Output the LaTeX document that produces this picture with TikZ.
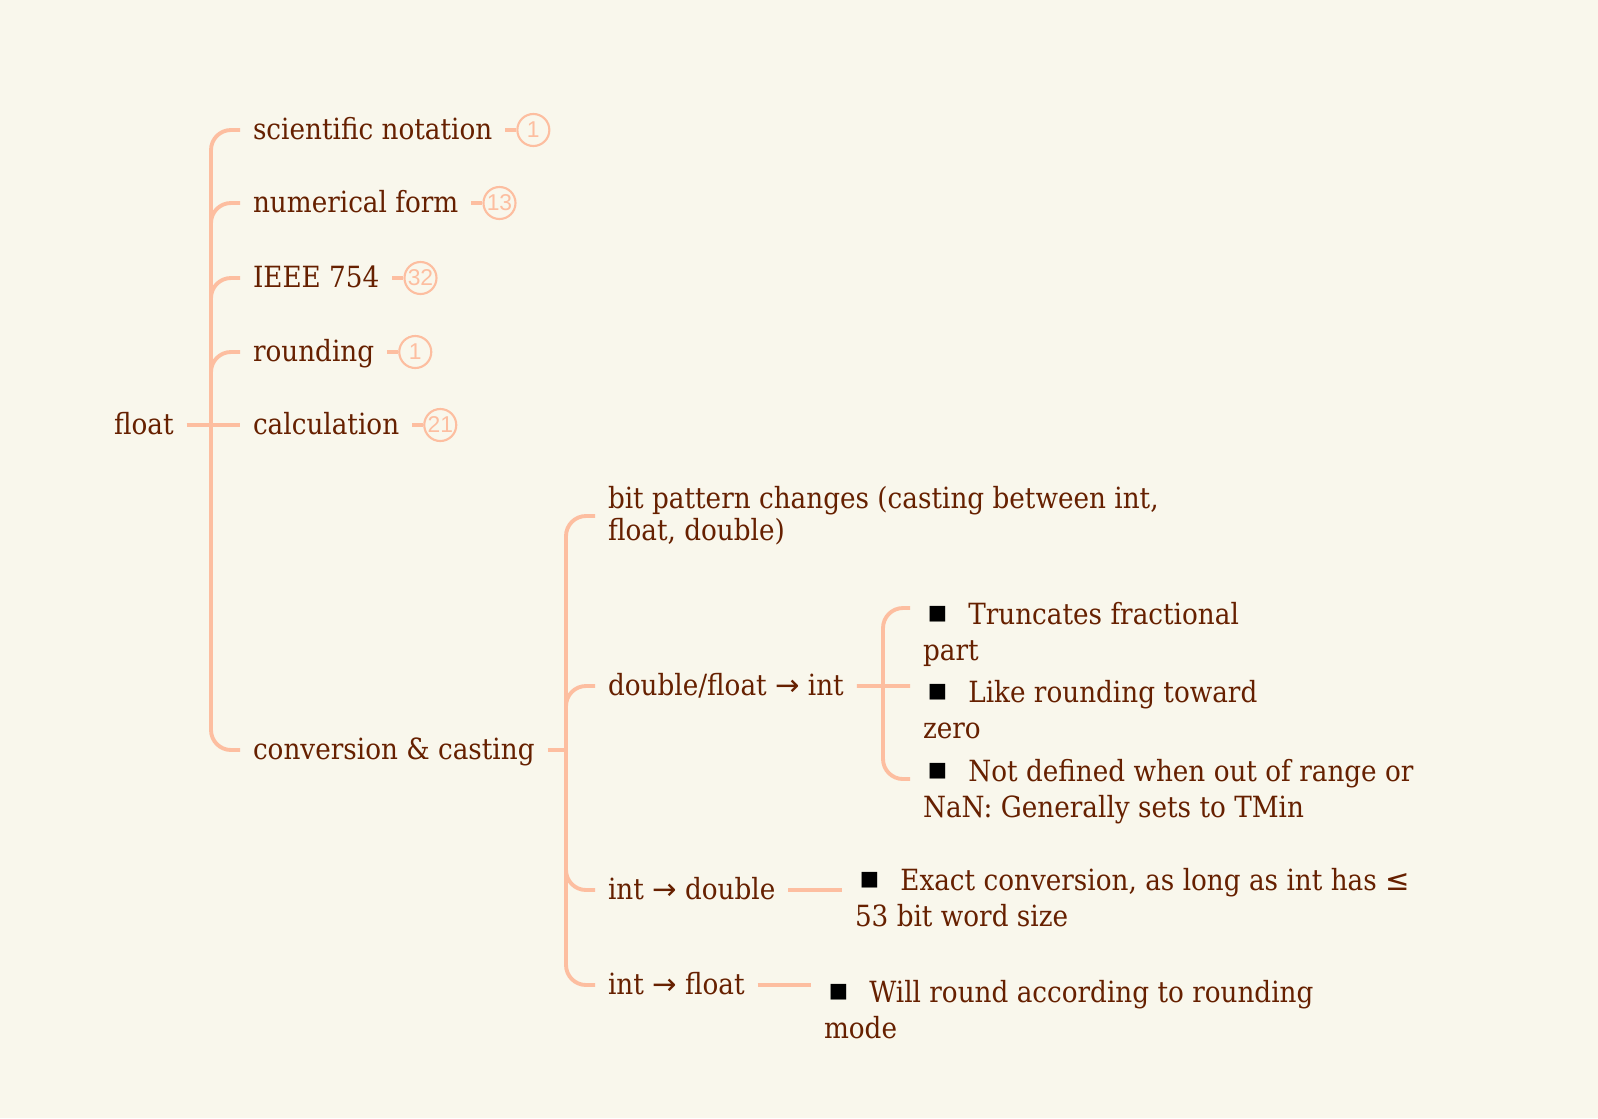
\documentclass[tikz,border=0pt]{standalone}
\usepackage{fontspec}
\setmainfont{DejaVu Serif}[FakeStretch=0.9]
\newfontfamily\symfont{DejaVu Sans}
\newfontfamily\badgefont{Liberation Sans}
\usetikzlibrary{positioning}

\definecolor{paper}{RGB}{249,247,236}
\definecolor{ink}{RGB}{102,32,0}
\definecolor{peach}{RGB}{253,190,160}

\newcommand{\arr}{{\symfont →}}
\newcommand{\lesseq}{{\symfont ≤}}
\newcommand{\bul}{\hspace*{1.4pt}\raisebox{1.2pt}{\color{black}\symfont\fontsize{5.8pt}{6pt}\selectfont ■}\hspace{6pt}}

\begin{document}
\begin{tikzpicture}[x=0.01cm,y=-0.01cm]
\tikzstyle{every node}=[font=\fontsize{8.3pt}{9.1pt}\selectfont, text=ink, inner sep=3.5pt]
\tikzstyle{topic}=[anchor=west, text height=0.76em, text depth=0.2em]
\tikzstyle{lines}=[anchor=west, align=left]
\tikzstyle{item}=[anchor=north west, align=left, font=\fontsize{8.3pt}{10.3pt}\selectfont]
\tikzstyle{badge}=[circle, draw=peach, line width=0.6pt, minimum size=0.32cm, inner sep=0pt, text=peach, font=\badgefont\fontsize{6.5pt}{7pt}\selectfont]
\tikzstyle{link}=[draw=peach, line width=1.1pt, rounded corners=0.2cm]

\fill[paper] (0,0) rectangle (1598,1118);
\useasboundingbox (0,0) rectangle (1598,1118);

\node[topic] (float) at (101,425) {float};
\coordinate (hub1) at (211,425);

\node[topic] (sci) at (240,130) {scientific notation};
\node[topic] (num) at (240,203) {numerical form};
\node[topic] (ieee) at (240,278) {IEEE 754};
\node[topic] (round) at (240,352) {rounding};
\node[topic] (calc) at (240,425) {calculation};
\node[topic] (conv) at (240,750) {conversion \& casting};

\node[badge, right=0.11cm of sci] (sci-n) {1};
\node[badge, right=0.11cm of num] (num-n) {13};
\node[badge, right=0.11cm of ieee] (ieee-n) {32};
\node[badge, right=0.11cm of round] (round-n) {1};
\node[badge, right=0.11cm of calc] (calc-n) {21};

\draw[link] (float.east) -- (calc.west);
\foreach \c in {sci,num,ieee,round,conv}
  \draw[link] (hub1) |- (\c.west);
\foreach \c in {sci,num,ieee,round,calc}
  \draw[link] (\c.east) -- (\c-n.west);

% conversion & casting
\coordinate (hub2) at (566,750);
\node[lines] (bitpat) at (595,516) {bit pattern changes (casting between int,\\float, double)};
\node[topic] (d2i) at (595,686) {double/float \arr{} int};
\node[topic] (i2d) at (595,890) {int \arr{} double};
\node[topic] (i2f) at (595,985) {int \arr{} float};

\draw[link] (conv.east) -- (hub2);
\foreach \c in {bitpat,d2i,i2d,i2f}
  \draw[link] (hub2) |- (\c.west);

% double/float -> int
\coordinate (hub3) at (883,686);
\node[item] (trunc) at (910,589) {\bul Truncates fractional\\part};
\node[item] (like) at (910,667) {\bul Like rounding toward\\zero};
\node[item] (notdef) at (910,746) {\bul Not defined when out of range or\\NaN: Generally sets to TMin};

\draw[link] (d2i.east) -- ([yshift=-0.19cm]like.north west);
\draw[link] (hub3) |- ([yshift=-0.19cm]trunc.north west);
\draw[link] (hub3) |- ([yshift=-0.33cm]notdef.north west);

% int -> double, int -> float
\node[item] (exact) at (842,855) {\bul Exact conversion, as long as int has \lesseq\\53 bit word size};
\node[item] (willround) at (811,967) {\bul Will round according to rounding\\mode};

\draw[link] (i2d.east) -- (i2d.east -| exact.west);
\draw[link] (i2f.east) -- (i2f.east -| willround.west);
\end{tikzpicture}
\end{document}
